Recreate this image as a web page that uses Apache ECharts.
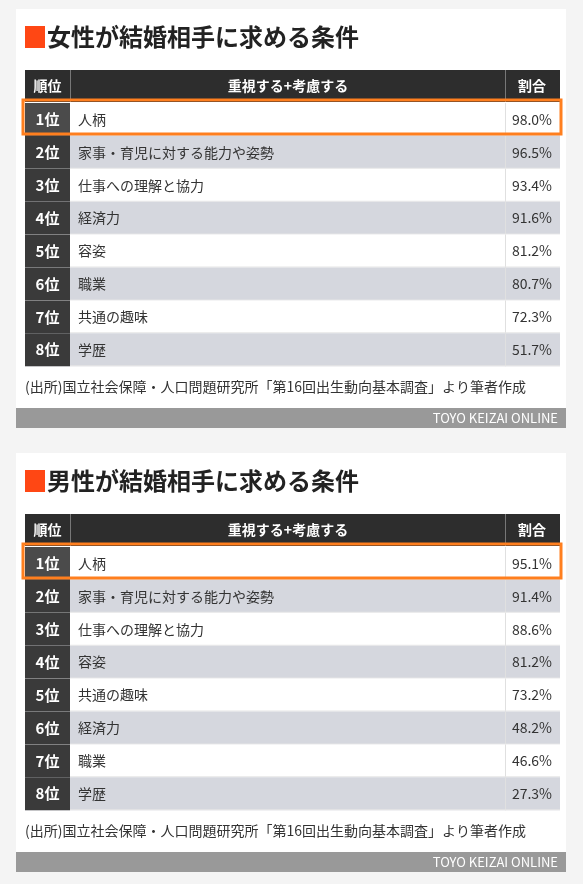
<!DOCTYPE html>
<html><head><meta charset="utf-8">
<script src="https://cdn.jsdelivr.net/npm/echarts@6/dist/echarts.min.js"></script>
<style>html,body{margin:0;padding:0;background:#f4f4f4}#c{width:583px;height:884px}</style>
</head><body><div id="c"></div>
<script>
const titles = ['女性が結婚相手に求める条件', '男性が結婚相手に求める条件'];
const ranks = ['1位','2位','3位','4位','5位','6位','7位','8位'];
const womenItems = ['人柄','家事・育児に対する能力や姿勢','仕事への理解と協力','経済力','容姿','職業','共通の趣味','学歴'];
const womenValues = [98.0,96.5,93.4,91.6,81.2,80.7,72.3,51.7];
const menItems = ['人柄','家事・育児に対する能力や姿勢','仕事への理解と協力','容姿','共通の趣味','経済力','職業','学歴'];
const menValues = [95.1,91.4,88.6,81.2,73.2,48.2,46.6,27.3];
const headers = ['順位','重視する+考慮する','割合'];
const source = '(出所)国立社会保障・人口問題研究所「第16回出生動向基本調査」より筆者作成';
const credit = 'TOYO KEIZAI ONLINE';

const F = '"Noto Sans CJK JP", "Noto Sans", sans-serif';
const g = [];
function panel(oy, title, items, values){
  g.push({type:'rect',shape:{x:16,y:oy+9,width:550,height:419},style:{fill:'#fff'}});
  g.push({type:'rect',shape:{x:25,y:oy+26,width:20,height:22},style:{fill:'#ff4714'}});
  g.push({type:'text',x:47,y:oy+37,style:{text:title,font:'bold 24px '+F,fill:'#222',verticalAlign:'middle'}});
  g.push({type:'rect',shape:{x:25,y:oy+70,width:535,height:32},style:{fill:'#2d2d2d'}});
  g.push({type:'rect',shape:{x:70,y:oy+70,width:1,height:32},style:{fill:'#777'}});
  g.push({type:'rect',shape:{x:505,y:oy+70,width:1,height:32},style:{fill:'#777'}});
  g.push({type:'text',x:47.5,y:oy+86,style:{text:headers[0],font:'bold 14px '+F,fill:'#fff',align:'center',verticalAlign:'middle'}});
  g.push({type:'text',x:288,y:oy+86,style:{text:headers[1],font:'bold 14px '+F,fill:'#fff',align:'center',verticalAlign:'middle'}});
  g.push({type:'text',x:532,y:oy+86,style:{text:headers[2],font:'bold 14px '+F,fill:'#fff',align:'center',verticalAlign:'middle'}});
  const rh = 32.9;
  for(let i=0;i<items.length;i++){
    const y = oy+103+i*rh;
    g.push({type:'rect',shape:{x:25,y:y,width:535,height:rh},style:{fill:i%2? '#d5d7de':'#fff'}});
    g.push({type:'rect',shape:{x:25,y:y,width:45,height:rh},style:{fill:i===0?'#4b4b4b':'#3a3a3a'}});
    g.push({type:'rect',shape:{x:505,y:y,width:1,height:rh},style:{fill:'#e0e0e0'}});
    g.push({type:'rect',shape:{x:70,y:y+rh-1,width:490,height:1},style:{fill:'#e6e6e6'}});
    g.push({type:'text',x:47.5,y:y+rh/2,style:{text:ranks[i],font:'bold 15px '+F,fill:'#fff',align:'center',verticalAlign:'middle'}});
    g.push({type:'text',x:78,y:y+rh/2,style:{text:items[i],font:'14px '+F,fill:'#333',verticalAlign:'middle'}});
    g.push({type:'text',x:552,y:y+rh/2,style:{text:values[i].toFixed(1)+'%',font:'14px '+F,fill:'#333',align:'right',verticalAlign:'middle'}});
  }
  g.push({type:'rect',shape:{x:23,y:oy+100,width:538,height:34},style:{fill:'none',stroke:'#ff7f1e',lineWidth:3}});
  g.push({type:'text',x:25,y:oy+387,style:{text:source,font:'14px '+F,fill:'#333',verticalAlign:'middle'}});
  g.push({type:'rect',shape:{x:16,y:oy+408,width:550,height:20},style:{fill:'#999'}});
  g.push({type:'text',x:558,y:oy+418,style:{text:credit,font:'13px '+F,fill:'#fff',align:'right',verticalAlign:'middle'}});
}
panel(0,titles[0],womenItems,womenValues);
panel(444,titles[1],menItems,menValues);
const chart = echarts.init(document.getElementById('c'));
chart.setOption({backgroundColor:'#f4f4f4',graphic:{elements:g}});
</script></body></html>
